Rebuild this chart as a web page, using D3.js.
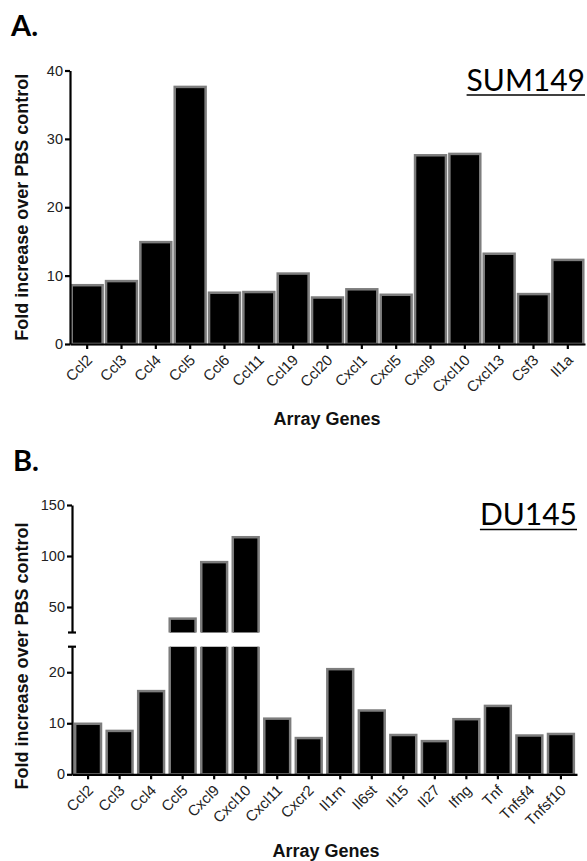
<!DOCTYPE html>
<html>
<head>
<meta charset="utf-8">
<script src="https://cdn.jsdelivr.net/npm/d3@7"></script>
<style>
  body { margin: 0; background: #fff; }
  svg { display: block; }
  .axis path, .axis line { stroke: #000; stroke-width: 2.2; }
  .lab { font-family: "Liberation Sans", Arial, sans-serif; font-weight: bold; font-size: 18px; fill: #111; }
  .panel { font-family: Lato, "Open Sans", sans-serif; font-weight: bold; font-size: 29px; fill: #000; }
  .cell { font-family: Lato, "Open Sans", sans-serif; font-size: 30px; fill: #000; }
</style>
</head>
<body>
<svg width="587" height="861"></svg>
<script>
const svg = d3.select("svg");

// panel A data (SUM149)
const genesA = ["Ccl2", "Ccl3", "Ccl4", "Ccl5", "Ccl6", "Ccl11", "Ccl19", "Ccl20",
  "Cxcl1", "Cxcl5", "Cxcl9", "Cxcl10", "Cxcl13", "Csf3", "Il1a"];
const foldA = [8.6, 9.2, 14.9, 37.6, 7.5, 7.6, 10.3, 6.8, 8.0, 7.2, 27.6, 27.8, 13.2, 7.3, 12.3];
const ticksA = [0, 10, 20, 30, 40];

// panel B data (DU145), broken y axis
const genesB = ["Ccl2", "Ccl3", "Ccl4", "Ccl5", "Cxcl9", "Cxcl10", "Cxcl11", "Cxcr2",
  "Il1rn", "Il6st", "Il15", "Il27", "Ifng", "Tnf", "Tnfsf4", "Tnfsf10"];
const foldB = [9.9, 8.5, 16.3, 38.6, 94, 118.4, 10.9, 7.1, 20.6, 12.5, 7.7, 6.5, 10.8, 13.4, 7.6, 7.9];
const ticksBLow = [0, 10, 20];
const ticksBHigh = [50, 100, 150];
const breakAt = 25;

const barFill = "#000", barStroke = "#7d7d7d";

function tickFont(g, size) {
  g.selectAll(".tick text")
    .style("font-family", '"Liberation Sans", Arial, sans-serif')
    .style("font-size", size)
    .style("fill", "#222");
}

function xAxis(g, x) {
  g.attr("class", "axis").call(d3.axisBottom(x).tickSize(5).tickSizeOuter(0));
  tickFont(g, "15px");
  g.selectAll(".tick text")
    .attr("x", 0).attr("y", 0).attr("dy", 0)
    .attr("transform", "translate(6,17) rotate(-45)")
    .style("text-anchor", "end");
}

function yAxis(g, y, vals) {
  g.attr("class", "axis")
    .call(d3.axisLeft(y).tickValues(vals).tickSize(5).tickSizeOuter(0).tickPadding(2));
  tickFont(g, "14.5px");
}

// ---------- A ----------
const xA = d3.scaleBand(genesA, [70, 585]).paddingInner(0.1).paddingOuter(0.05);
const yA = d3.scaleLinear([0, 40], [344, 70.5]);

svg.append("text").attr("class", "panel").attr("x", 11).attr("y", 36).text("A.");

svg.append("g").selectAll("rect")
  .data(genesA)
  .join("rect")
  .attr("x", d => xA(d))
  .attr("width", xA.bandwidth())
  .attr("y", (d, i) => yA(foldA[i]))
  .attr("height", (d, i) => yA(0) - yA(foldA[i]))
  .attr("fill", barFill)
  .attr("stroke", barStroke)
  .attr("stroke-width", 2.5);

svg.append("g").attr("transform", "translate(70,0)").call(g => yAxis(g, yA, ticksA));
svg.append("g").attr("transform", `translate(0,${yA(0)})`).call(g => xAxis(g, xA));

svg.append("text").attr("class", "lab")
  .attr("transform", `translate(28,${(yA(0) + yA(40)) / 2}) rotate(-90)`)
  .attr("text-anchor", "middle").text("Fold increase over PBS control");
svg.append("text").attr("class", "lab")
  .attr("x", 327).attr("y", 425).attr("text-anchor", "middle").text("Array Genes");

function cellTitle(label, xr, yb) {
  const t = svg.append("text").attr("class", "cell")
    .attr("x", xr).attr("y", yb).attr("text-anchor", "end").text(label);
  const w = t.node().getComputedTextLength();
  svg.append("line").attr("x1", xr - w).attr("x2", xr)
    .attr("y1", yb + 4.5).attr("y2", yb + 4.5)
    .attr("stroke", "#000").attr("stroke-width", 1.6);
}
cellTitle("SUM149", 585, 90.5);

// ---------- B ----------
const xB = d3.scaleBand(genesB, [72, 577]).paddingInner(0.18).paddingOuter(0.1);
const yLow = d3.scaleLinear([0, breakAt], [774.3, 646.7]);
const yHigh = d3.scaleLinear([breakAt, 150], [632.5, 505]);

svg.append("text").attr("class", "panel").attr("x", 13).attr("y", 471).text("B.");

const defs = svg.append("defs");
defs.append("clipPath").attr("id", "clipLow").append("rect")
  .attr("x", 0).attr("width", 587).attr("y", yLow(breakAt)).attr("height", yLow(0) - yLow(breakAt) + 5);
defs.append("clipPath").attr("id", "clipHigh").append("rect")
  .attr("x", 0).attr("width", 587).attr("y", yHigh(150) - 5).attr("height", yHigh(breakAt) - yHigh(150) + 5);

svg.append("g").attr("clip-path", "url(#clipLow)")
  .selectAll("rect")
  .data(genesB)
  .join("rect")
  .attr("x", d => xB(d))
  .attr("width", xB.bandwidth())
  .attr("y", (d, i) => foldB[i] > breakAt ? yLow(breakAt) - 4 : yLow(foldB[i]))
  .attr("height", (d, i) => yLow(0) - (foldB[i] > breakAt ? yLow(breakAt) - 4 : yLow(foldB[i])))
  .attr("fill", barFill)
  .attr("stroke", barStroke)
  .attr("stroke-width", 2.5);

svg.append("g").attr("clip-path", "url(#clipHigh)")
  .selectAll("rect")
  .data(genesB.filter((d, i) => foldB[i] > breakAt))
  .join("rect")
  .attr("x", d => xB(d))
  .attr("width", xB.bandwidth())
  .attr("y", d => yHigh(foldB[genesB.indexOf(d)]))
  .attr("height", d => yHigh(breakAt) + 4 - yHigh(foldB[genesB.indexOf(d)]))
  .attr("fill", barFill)
  .attr("stroke", barStroke)
  .attr("stroke-width", 2.5);

// two y segments either side of the break
svg.append("g").attr("transform", "translate(72,0)").call(g => yAxis(g, yLow, ticksBLow));
svg.append("g").attr("transform", "translate(72,0)").call(g => yAxis(g, yHigh, ticksBHigh));
// caps at the break
[yLow(breakAt), yHigh(breakAt)].forEach(yy => {
  svg.append("line").attr("x1", 68).attr("x2", 76).attr("y1", yy).attr("y2", yy)
    .attr("stroke", "#000").attr("stroke-width", 2.2);
});

svg.append("g").attr("transform", `translate(0,${yLow(0)})`).call(g => xAxis(g, xB));

svg.append("text").attr("class", "lab")
  .attr("transform", "translate(28,656) rotate(-90)")
  .attr("text-anchor", "middle").text("Fold increase over PBS control");
svg.append("text").attr("class", "lab")
  .attr("x", 326).attr("y", 857).attr("text-anchor", "middle").text("Array Genes");

cellTitle("DU145", 577, 525);
</script>
</body>
</html>
